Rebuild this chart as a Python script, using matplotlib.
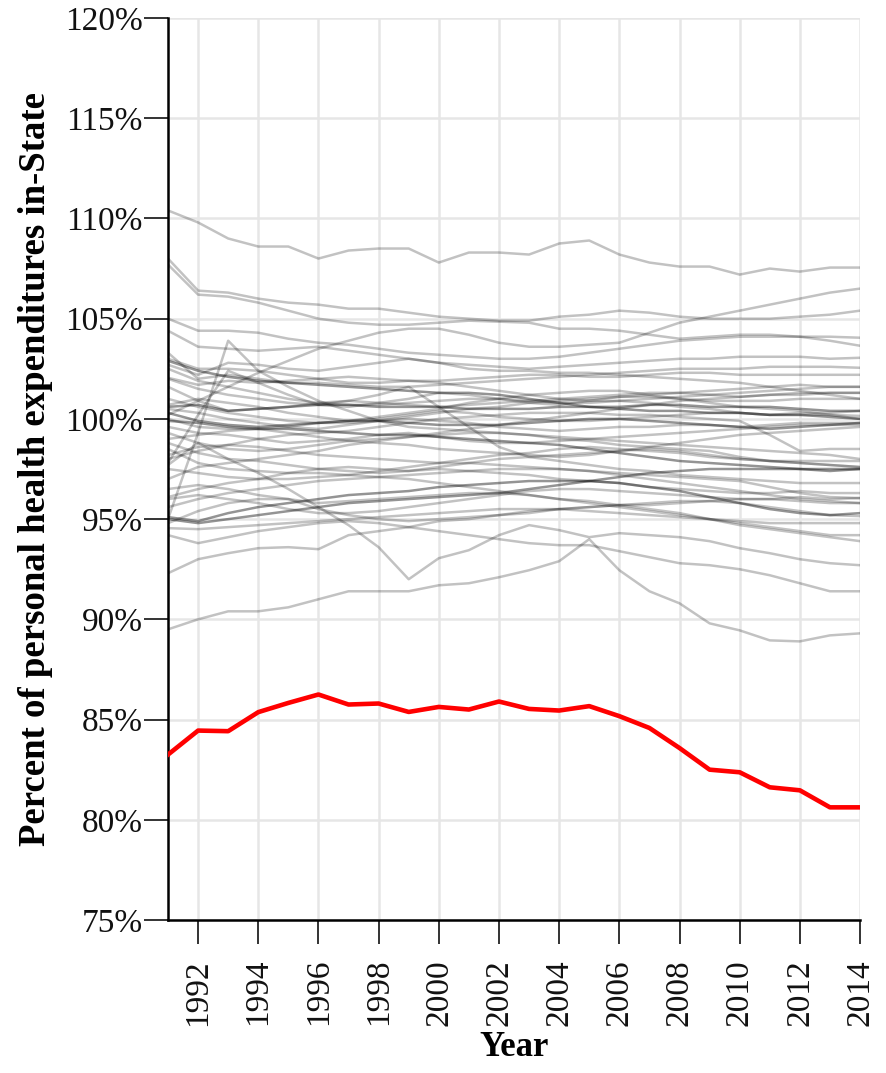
import matplotlib.pyplot as plt
import matplotlib.ticker as mtick

plt.rcParams['font.family'] = ['Liberation Serif', 'DejaVu Serif']

years = list(range(1991, 2015))

# highlighted state (percent of personal health spending kept in-state)
highlight = [83.25, 84.45, 84.42, 85.37, 85.83, 86.25, 85.75, 85.8, 85.38, 85.63,
             85.5, 85.9, 85.53, 85.45, 85.67, 85.17, 84.58, 83.58, 82.5, 82.37,
             81.62, 81.47, 80.62, 80.62]

# every other state, drawn faintly
others = [
    [110.4, 109.8, 109.0, 108.6, 108.6, 108.0, 108.4, 108.5, 108.5, 107.8, 108.3, 108.3, 108.2, 108.75, 108.9, 108.2, 107.8, 107.6, 107.6, 107.2, 107.5, 107.35, 107.55, 107.55],
    [108.0, 106.4, 106.3, 106.0, 105.8, 105.7, 105.5, 105.5, 105.3, 105.1, 105.0, 104.9, 104.9, 105.1, 105.2, 105.4, 105.3, 105.1, 105.0, 105.0, 105.0, 105.1, 105.2, 105.4],
    [107.7, 106.2, 106.1, 105.8, 105.4, 105.0, 104.8, 104.7, 104.7, 104.8, 104.9, 104.85, 104.8, 104.5, 104.5, 104.4, 104.2, 104.0, 104.1, 104.2, 104.2, 104.1, 103.9, 103.65],
    [100.2, 100.9, 101.6, 102.3, 102.9, 103.5, 103.9, 104.3, 104.5, 104.5, 104.2, 103.8, 103.6, 103.6, 103.7, 103.8, 104.3, 104.8, 105.1, 105.4, 105.7, 106.0, 106.3, 106.5],
    [105.0, 104.4, 104.4, 104.3, 104.0, 103.8, 103.7, 103.5, 103.3, 103.2, 103.1, 103.0, 103.0, 103.1, 103.3, 103.5, 103.7, 103.9, 104.0, 104.1, 104.1, 104.1, 104.1, 104.05],
    [104.4, 103.6, 103.5, 103.4, 103.5, 103.6, 103.4, 103.2, 103.0, 102.8, 102.7, 102.6, 102.5, 102.6, 102.7, 102.8, 102.9, 103.0, 103.0, 103.1, 103.1, 103.1, 103.0, 103.05],
    [103.3, 102.0, 102.2, 102.0, 101.8, 101.8, 101.7, 101.6, 101.6, 101.7, 101.8, 101.9, 102.0, 102.1, 102.2, 102.3, 102.4, 102.5, 102.5, 102.5, 102.6, 102.6, 102.6, 102.55],
    [103.0, 102.5, 102.5, 102.4, 102.2, 102.0, 101.8, 101.8, 101.9, 101.8, 101.6, 101.4, 101.2, 101.0, 100.9, 100.9, 100.8, 100.6, 100.5, 100.3, 100.2, 100.3, 100.3, 100.4],
    [102.7, 102.2, 102.8, 102.7, 102.5, 102.4, 102.6, 102.8, 103.0, 102.8, 102.5, 102.4, 102.4, 102.3, 102.3, 102.2, 102.1, 102.0, 101.9, 101.8, 101.6, 101.4, 101.2, 101.0],
    [102.05, 101.7, 101.9, 101.8, 101.9, 102.0, 102.1, 102.0, 101.9, 101.9, 102.0, 102.1, 102.2, 102.2, 102.1, 102.1, 102.2, 102.3, 102.3, 102.2, 102.2, 102.2, 102.2, 102.2],
    [102.0, 101.5, 101.2, 101.0, 100.8, 100.7, 100.6, 100.8, 101.0, 101.3, 101.2, 101.0, 100.8, 100.7, 100.9, 101.1, 101.2, 101.3, 101.4, 101.5, 101.6, 101.7, 101.6, 101.6],
    [101.6, 100.9, 100.4, 100.5, 100.6, 100.8, 100.9, 100.8, 100.7, 100.6, 100.7, 100.8, 100.9, 101.0, 101.1, 101.2, 101.3, 101.3, 101.2, 101.1, 101.2, 101.3, 101.3, 101.3],
    [100.7, 101.0, 100.8, 100.6, 100.3, 100.1, 99.9, 100.0, 100.2, 100.4, 100.3, 100.1, 100.0, 99.9, 99.9, 100.0, 100.1, 100.2, 100.3, 100.3, 100.2, 100.2, 100.2, 100.15],
    [100.5, 100.3, 100.0, 99.8, 99.6, 99.5, 99.7, 99.9, 100.0, 99.9, 99.8, 99.6, 99.5, 99.4, 99.5, 99.6, 99.6, 99.7, 99.7, 99.6, 99.7, 99.8, 99.8, 99.8],
    [100.0, 99.6, 99.5, 99.5, 99.6, 99.8, 99.9, 100.1, 100.3, 100.5, 100.8, 101.0, 101.2, 101.3, 101.4, 101.4, 101.2, 101.0, 100.8, 100.6, 100.5, 100.4, 100.2, 100.0],
    [99.6, 99.3, 99.2, 99.0, 98.8, 98.9, 99.0, 99.2, 99.3, 99.1, 98.9, 98.8, 98.8, 98.9, 99.0, 99.1, 99.2, 99.3, 99.4, 99.5, 99.6, 99.7, 99.7, 99.7],
    [99.3, 98.8, 98.5, 98.4, 98.5, 98.7, 98.9, 99.0, 99.1, 99.2, 99.3, 99.3, 99.2, 99.1, 99.0, 98.9, 98.8, 98.7, 98.6, 98.5, 98.4, 98.3, 98.2, 98.0],
    [97.7, 98.8, 98.0, 97.3, 96.5, 95.6, 94.7, 93.6, 92.0, 93.05, 93.45, 94.2, 94.7, 94.45, 94.1, 94.3, 94.2, 94.1, 93.9, 93.55, 93.3, 93.0, 92.8, 92.7],
    [95.0, 99.3, 103.9, 102.4, 101.6, 100.9, 100.4, 99.9, 99.6, 99.5, 99.4, 99.3, 99.2, 99.0, 98.9, 98.7, 98.6, 98.5, 98.4, 98.1, 97.9, 97.8, 97.7, 97.6],
    [97.8, 100.2, 102.4, 101.8, 101.2, 100.7, 100.9, 101.2, 101.6, 100.6, 99.6, 98.6, 98.1, 97.9, 97.7, 97.5, 97.4, 97.2, 97.1, 97.0, 96.9, 96.8, 96.8, 96.8],
    [98.2, 98.6, 98.7, 98.6, 98.4, 98.2, 98.1, 98.0, 97.9, 97.8, 97.8, 97.7, 97.6, 97.5, 97.4, 97.3, 97.2, 97.1, 97.0, 96.9, 96.6, 96.3, 96.1, 96.05],
    [97.0, 97.6, 97.8, 98.0, 98.2, 98.4, 98.7, 98.9, 99.1, 99.3, 99.5, 99.7, 99.9, 100.1, 100.3, 100.5, 100.7, 100.9, 101.0, 101.1, 101.2, 101.2, 101.3, 101.3],
    [96.1, 96.5, 96.8, 97.0, 97.3, 97.5, 97.6, 97.5, 97.4, 97.6, 97.8, 98.0, 98.1, 98.2, 98.3, 98.4, 98.5, 98.4, 98.2, 98.0, 97.9, 97.8, 97.7, 97.6],
    [95.6, 96.0, 96.3, 96.5, 96.7, 96.9, 97.0, 97.1, 97.2, 97.3, 97.4, 97.5, 97.5, 97.5, 97.4, 97.2, 97.0, 96.8, 96.6, 96.4, 96.2, 96.0, 95.9, 95.8],
    [94.8, 95.4, 95.8, 96.0, 96.0, 95.5, 95.2, 95.0, 94.9, 95.0, 95.1, 95.2, 95.3, 95.5, 95.6, 95.7, 95.8, 95.9, 95.9, 95.8, 95.6, 95.4, 95.2, 95.15],
    [94.55, 94.5, 94.6, 94.7, 94.8, 94.9, 95.0, 95.1, 95.2, 95.3, 95.4, 95.5, 95.5, 95.5, 95.4, 95.3, 95.2, 95.1, 95.0, 94.9, 94.8, 94.8, 94.8, 94.8],
    [92.3, 93.0, 93.3, 93.55, 93.6, 93.5, 94.2, 94.4, 94.6, 94.9, 95.0, 95.2, 95.4, 95.5, 95.6, 95.7, 95.7, 95.8, 95.9, 96.0, 96.0, 96.1, 96.0, 96.05],
    [89.5, 90.0, 90.4, 90.4, 90.6, 91.0, 91.4, 91.4, 91.4, 91.7, 91.8, 92.1, 92.45, 92.9, 94.0, 92.45, 91.4, 90.8, 89.8, 89.45, 88.95, 88.9, 89.2, 89.3],
    [94.2, 93.8, 94.1, 94.4, 94.6, 94.8, 94.9, 94.8, 94.6, 94.4, 94.2, 94.0, 93.8, 93.7, 93.7, 93.4, 93.1, 92.8, 92.7, 92.5, 92.2, 91.8, 91.4, 91.4],
    [96.5, 96.7, 96.5, 96.2, 96.0, 95.8, 95.9, 96.0, 96.1, 96.2, 96.3, 96.3, 96.2, 96.0, 95.8, 95.6, 95.4, 95.2, 95.0, 94.8, 94.6, 94.4, 94.2, 94.2],
    [98.5, 97.8, 97.5, 97.4, 97.3, 97.3, 97.2, 97.1, 97.0, 96.8, 96.6, 96.4, 96.2, 96.0, 95.9, 95.7, 95.5, 95.3, 95.0, 94.7, 94.5, 94.3, 94.1, 93.9],
    [101.0, 100.6, 100.3, 100.1, 99.9, 99.8, 99.8, 99.9, 100.1, 100.3, 100.5, 100.6, 100.8, 100.9, 101.0, 101.1, 101.1, 101.0, 100.9, 100.9, 100.9, 101.0, 101.0, 101.0],
    [99.0, 99.2, 99.4, 99.5, 99.3, 99.1, 98.9, 98.8, 98.7, 98.5, 98.4, 98.3, 98.2, 98.1, 98.2, 98.4, 98.6, 98.8, 99.0, 99.2, 99.3, 99.4, 99.5, 99.6],
    [98.0, 98.4, 98.7, 99.0, 99.2, 99.3, 99.4, 99.6, 99.8, 100.0, 100.1, 100.2, 100.3, 100.3, 100.3, 100.2, 100.2, 100.1, 100.0, 99.9, 99.2, 98.4, 98.5, 98.5],
    [97.5, 97.3, 97.1, 97.0, 97.0, 97.1, 97.2, 97.4, 97.6, 97.8, 98.0, 98.2, 98.3, 98.5, 98.6, 98.5, 98.4, 98.3, 98.1, 98.0, 97.9, 97.9, 97.9, 97.9],
    [96.0, 96.2, 96.0, 95.8, 95.5, 95.3, 95.3, 95.4, 95.6, 95.8, 96.0, 96.2, 96.4, 96.5, 96.5, 96.4, 96.3, 96.2, 96.1, 96.0, 96.0, 95.9, 95.8, 95.8],
    [102.5, 101.9, 101.6, 101.3, 101.0, 100.8, 100.7, 100.7, 100.8, 100.9, 101.0, 101.0, 100.9, 100.8, 100.8, 100.9, 101.0, 101.1, 101.2, 101.3, 101.4, 101.5, 101.6, 101.6],
    [98.8, 98.3, 98.0, 97.9, 97.7, 97.5, 97.4, 97.3, 97.4, 97.5, 97.4, 97.3, 97.2, 97.0, 96.9, 96.8, 96.6, 96.5, 96.4, 96.3, 96.3, 96.4, 96.3, 96.3],
]

# a few states whose lines sit on top of each other and read darker
others_dark = [
    [102.9, 102.4, 102.1, 101.9, 101.8, 101.7, 101.6, 101.5, 101.4, 101.3, 101.3, 101.2, 101.0, 100.8, 100.6, 100.5, 100.4, 100.4, 100.3, 100.3, 100.2, 100.2, 100.1, 100.0],
    [100.6, 100.7, 100.4, 100.5, 100.6, 100.7, 100.7, 100.6, 100.6, 100.6, 100.5, 100.5, 100.5, 100.6, 100.6, 100.6, 100.7, 100.7, 100.6, 100.6, 100.6, 100.5, 100.4, 100.4],
    [95.1, 94.9, 95.3, 95.6, 95.8, 96.0, 96.2, 96.3, 96.4, 96.6, 96.7, 96.8, 96.9, 96.9, 96.9, 96.8, 96.6, 96.4, 96.1, 95.8, 95.5, 95.3, 95.2, 95.3],
    [95.0, 94.8, 95.0, 95.2, 95.4, 95.6, 95.8, 95.9, 96.0, 96.1, 96.2, 96.3, 96.5, 96.7, 96.9, 97.1, 97.3, 97.4, 97.5, 97.5, 97.5, 97.5, 97.5, 97.5],
    [99.9, 99.8, 99.6, 99.5, 99.5, 99.4, 99.3, 99.2, 99.2, 99.1, 99.0, 98.9, 98.8, 98.7, 98.5, 98.3, 98.1, 97.9, 97.8, 97.7, 97.6, 97.5, 97.4, 97.5],
    [100.3, 99.9, 99.7, 99.6, 99.7, 99.8, 99.9, 99.9, 99.8, 99.7, 99.7, 99.7, 99.8, 99.9, 100.0, 100.0, 99.9, 99.8, 99.7, 99.6, 99.5, 99.6, 99.7, 99.8],
]

xticks = list(range(1992, 2015, 2))
yticks = [75, 80, 85, 90, 95, 100, 105, 110, 115, 120]

fig = plt.figure(figsize=(8.87, 10.73), dpi=100)
ax = fig.add_axes([0.1894, 0.1426, 0.7802, 0.8406])

for s in others:
    ax.plot(years, s, color='black', alpha=0.24, lw=1.8, solid_joinstyle='round')
for s in others_dark:
    ax.plot(years, s, color='black', alpha=0.42, lw=1.8, solid_joinstyle='round')
ax.plot(years, highlight, color='#ff0000', lw=3.3, zorder=5)

ax.set_xlim(1991, 2014)
ax.set_ylim(75, 120)
ax.set_xticks(xticks)
ax.set_yticks(yticks)
ax.yaxis.set_major_formatter(mtick.FuncFormatter(lambda v, p: f'{v:.0f}%'))
ax.grid(True, color='#e6e6e6', lw=1.8, zorder=0)
ax.set_axisbelow(True)

for side in ['top', 'right']:
    ax.spines[side].set_visible(False)
for side in ['left', 'bottom']:
    ax.spines[side].set_linewidth(1.8)
    ax.spines[side].set_color('black')

ax.tick_params(axis='x', length=17, width=1.4, pad=11, labelsize=24,
               labelrotation=90, color='#333333', labelcolor='#111111')
ax.tick_params(axis='y', length=17, width=1.4, pad=1, labelsize=24,
               color='#333333', labelcolor='#111111')

ax.set_xlabel('Year', fontsize=25, fontweight='bold', labelpad=4)
ax.set_ylabel('Percent of personal health expenditures in-State',
              fontsize=26.5, fontweight='bold', labelpad=9)

fig.savefig('out.png', dpi=100, facecolor='white')
